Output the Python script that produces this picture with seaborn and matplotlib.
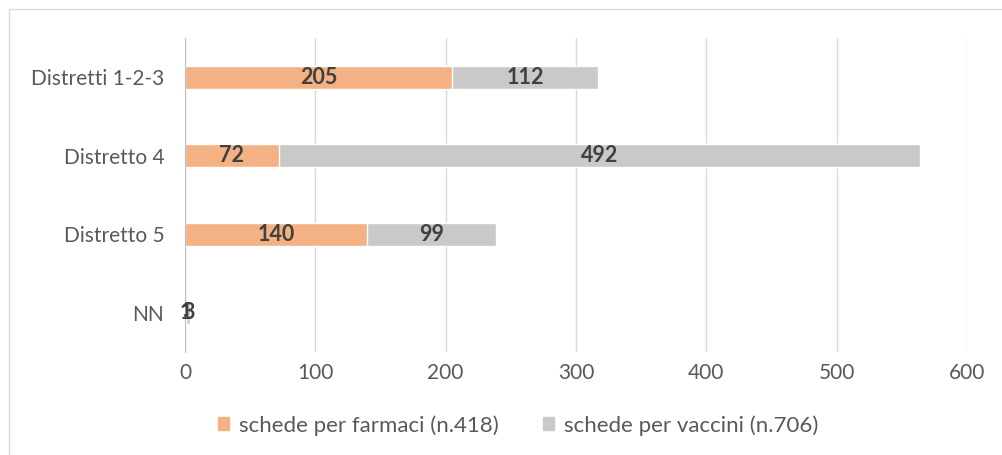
import matplotlib
matplotlib.use("Agg")
import matplotlib.pyplot as plt
from matplotlib.patches import Rectangle, Patch
import seaborn as sns
import pandas as pd

categorie = ["Distretti 1-2-3", "Distretto 4", "Distretto 5", "NN"]
farmaci = [205, 72, 140, 1]
vaccini = [112, 492, 99, 3]
etichetta_farmaci = "schede per farmaci (n.418)"
etichetta_vaccini = "schede per vaccini (n.706)"

col_farmaci = "#F4B183"
col_vaccini = "#C9C9C9"

sns.set_style("white")
plt.rcParams["font.family"] = ["Lato", "DejaVu Sans"]

df = pd.DataFrame({"cat": categorie, "farmaci": farmaci, "vaccini": vaccini})
df["totale"] = df["farmaci"] + df["vaccini"]

fig = plt.figure(figsize=(10.02, 4.55), dpi=100)
ax = fig.add_axes([0.1846, 0.2264, 0.7805, 0.6901])

# vaccini disegnati come totale, farmaci sopra
sns.barplot(data=df, x="totale", y="cat", orient="h", color=col_vaccini,
            width=0.29, ax=ax, saturation=1)
sns.barplot(data=df, x="farmaci", y="cat", orient="h", color=col_farmaci,
            width=0.29, ax=ax, saturation=1)

for i, (f, v) in enumerate(zip(farmaci, vaccini)):
    ax.text(f / 2, i, str(f), ha="center", va="center", fontsize=15.5,
            fontweight="bold", color="#404040")
    ax.text(f + v / 2, i, str(v), ha="center", va="center", fontsize=15.5,
            fontweight="bold", color="#404040")

ax.set_xlim(0, 600)
ax.set_xticks(range(0, 601, 100))
ax.set_ylabel("")
ax.set_xlabel("")
ax.grid(axis="x", color="#D9D9D9", linewidth=1)
ax.set_axisbelow(True)
for s in ["top", "right", "bottom"]:
    ax.spines[s].set_visible(False)
ax.spines["left"].set_color("#BFBFBF")
ax.tick_params(axis="both", length=0, labelsize=15, colors="#595959")
ax.tick_params(axis="x", pad=8)
ax.tick_params(axis="y", pad=15)

handles = [Patch(color=col_farmaci, label=etichetta_farmaci),
           Patch(color=col_vaccini, label=etichetta_vaccini)]
fig.legend(handles=handles, loc="center", bbox_to_anchor=(0.517, 0.065), ncol=2,
           frameon=False, fontsize=16, handlelength=0.5, handleheight=0.5,
           columnspacing=2.0, handletextpad=0.45, labelcolor="#595959")

fig.patches.append(Rectangle((9 / 1002, -0.05), 1.1, 1 - 9 / 455 + 0.05,
                             transform=fig.transFigure, fill=False,
                             edgecolor="#D9D9D9", linewidth=1))

fig.savefig("out.png", dpi=100)
